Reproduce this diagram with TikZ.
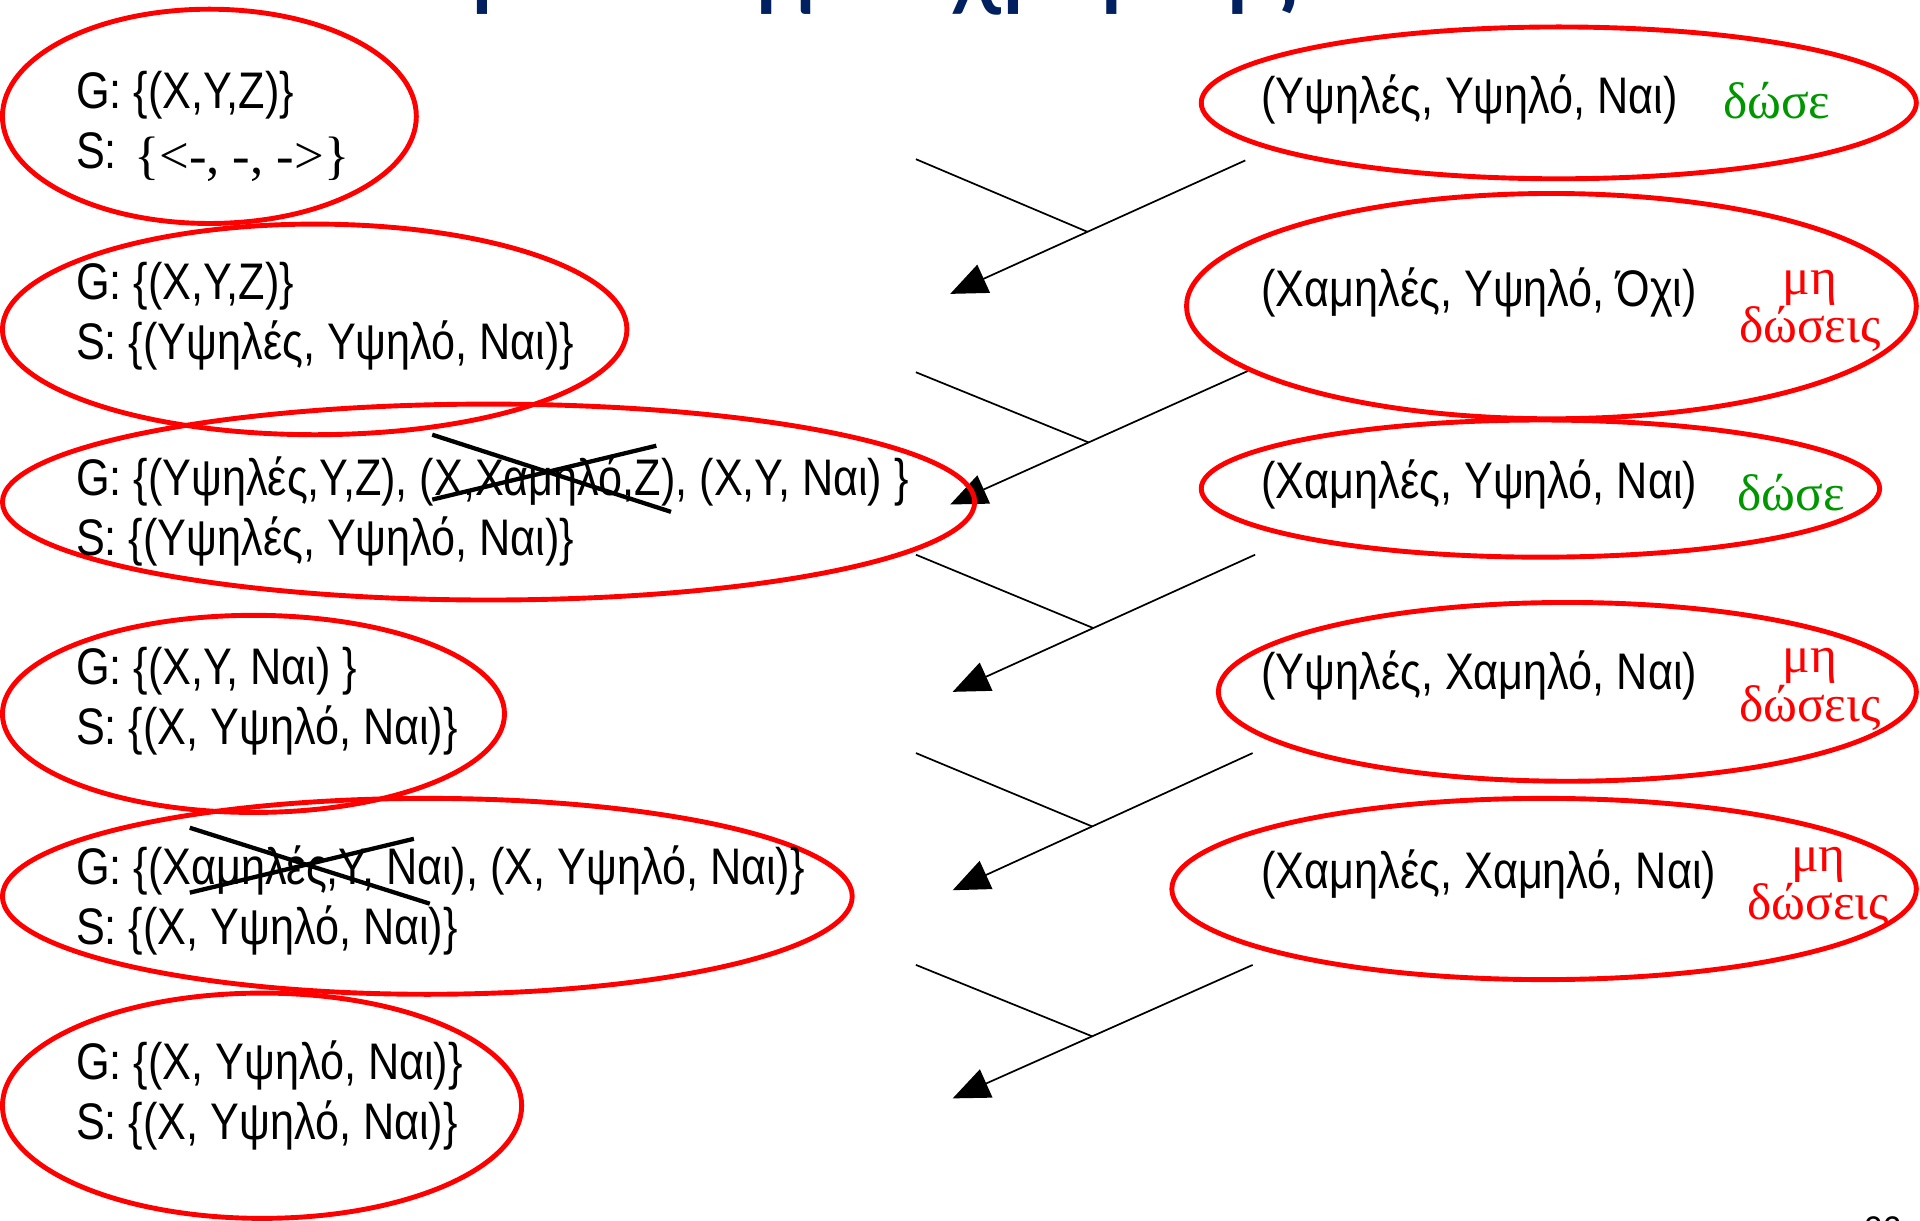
\documentclass[tikz,border=0pt]{standalone}
\usepackage{fontspec}
\setmainfont{Liberation Serif}
\newfontfamily\gsfont[FakeStretch=0.84]{Liberation Sans}
\newfontfamily\headfont{Carlito}
\usetikzlibrary{shapes.geometric, arrows.meta, calc}
\definecolor{headblue}{RGB}{0,32,96}
\definecolor{givegreen}{RGB}{0,150,0}

\begin{document}
\begin{tikzpicture}[
    x=1pt, y=-1pt,
    ring/.style={draw=red, line width=4pt, ellipse, inner sep=0pt},
    hyp/.style={font=\fontsize{42}{49}\gsfont, align=left, anchor=west, inner sep=0pt},
    sample/.style={font=\fontsize{42}{49}\gsfont, anchor=west, inner sep=0pt},
    verdict/.style={font=\fontsize{42}{34}\selectfont, align=center, inner sep=0pt},
    step_line/.style={line width=1.4pt},
    step_arrow/.style={line width=1.4pt, -{Triangle[length=30pt, width=25pt]}},
    strike/.style={line width=3.5pt}
]

    \useasboundingbox (0,0) rectangle (1568,997);

    % Title and page number, cut by the page edge
    \node[font=\fontsize{96}{100}\headfont, text=headblue, anchor=base west, inner sep=0pt] (title) at (270,-4) {Παράδειγμα χρήσης CEA};
    \node[font=\fontsize{30}{30}\headfont, anchor=north west, inner sep=0pt] (page_no) at (1522,993) {23};

    % Steps
    \coordinate (s1_in) at (1017,131); \coordinate (s1_out) at (776,240); \coordinate (s1_tail) at (748,130);
    \coordinate (s2_in) at (1019,303); \coordinate (s2_out) at (776,412); \coordinate (s2_tail) at (748,304);
    \coordinate (s3_in) at (1025,453); \coordinate (s3_out) at (778,565); \coordinate (s3_tail) at (748,453);
    \coordinate (s4_in) at (1023,615); \coordinate (s4_out) at (778,727); \coordinate (s4_tail) at (748,615);
    \coordinate (s5_in) at (1023,788); \coordinate (s5_out) at (778,897); \coordinate (s5_tail) at (748,788);

    \draw[step_arrow] (s1_in) -- (s1_out);
    \draw[step_line] (s1_tail) -- ($(s1_in)!0.535!(s1_out)$);
    \draw[step_arrow] (s2_in) -- (s2_out);
    \draw[step_line] (s2_tail) -- ($(s2_in)!0.535!(s2_out)$);
    \draw[step_arrow] (s3_in) -- (s3_out);
    \draw[step_line] (s3_tail) -- ($(s3_in)!0.535!(s3_out)$);
    \draw[step_arrow] (s4_in) -- (s4_out);
    \draw[step_line] (s4_tail) -- ($(s4_in)!0.535!(s4_out)$);
    \draw[step_arrow] (s5_in) -- (s5_out);
    \draw[step_line] (s5_tail) -- ($(s5_in)!0.535!(s5_out)$);

    % Version spaces
    \node[ring, minimum width=338pt, minimum height=175pt] (vs_a) at (171,95) {};
    \node[ring, minimum width=510pt, minimum height=172pt] (vs_b) at (257,269) {};
    \node[ring, minimum width=794pt, minimum height=160pt] (vs_c) at (399,410) {};
    \node[ring, minimum width=410pt, minimum height=161pt] (vs_d) at (207,583) {};
    \node[ring, minimum width=694pt, minimum height=160pt] (vs_e) at (349,732) {};
    \node[ring, minimum width=424pt, minimum height=184pt] (vs_f) at (214,903) {};

    \node[hyp] (vs_a_text) at (62,103) {G: \{(X,Y,Z)\}\\S:\hspace{14pt}\raisebox{-4pt}{\fontsize{43}{49}\rmfamily\{<-, -, ->\}}};
    \node[hyp] (vs_b_text) at (62,258) {G: \{(X,Y,Z)\}\\S: \{(Υψηλές, Υψηλό, Ναι)\}};
    \node[hyp] (vs_c_text) at (62,418) {G: \{(Υψηλές,Y,Z), (X,Χαμηλό,Z), (X,Y, Ναι) \}\\S: \{(Υψηλές, Υψηλό, Ναι)\}};
    \node[hyp] (vs_d_text) at (62,573) {G: \{(X,Y, Ναι) \}\\S: \{(X, Υψηλό, Ναι)\}};
    \node[hyp] (vs_e_text) at (62,735) {G: \{(Χαμηλές,Y, Ναι), (X, Υψηλό, Ναι)\}\\S: \{(X, Υψηλό, Ναι)\}};
    \node[hyp] (vs_f_text) at (62,895) {G: \{(X, Υψηλό, Ναι)\}\\S: \{(X, Υψηλό, Ναι)\}};

    % Removed hypotheses
    \draw[strike] (353,355) -- (548,418);
    \draw[strike] (353,408) -- (536,364);
    \draw[strike] (155,676) -- (351,738);
    \draw[strike] (155,729) -- (338,685);

    % Training examples
    \node[ring, minimum width=584pt, minimum height=124pt] (ex_a) at (1273,84) {};
    \node[ring, minimum width=596pt, minimum height=184pt] (ex_b) at (1267,250) {};
    \node[ring, minimum width=554pt, minimum height=112pt] (ex_c) at (1258,399) {};
    \node[ring, minimum width=570pt, minimum height=146pt] (ex_d) at (1280,565) {};
    \node[ring, minimum width=608pt, minimum height=148pt] (ex_e) at (1261,726) {};

    \node[sample] (ex_a_text) at (1030,81) {(Υψηλές, Υψηλό, Ναι)};
    \node[sample] (ex_b_text) at (1030,239) {(Χαμηλές, Υψηλό, Όχι)};
    \node[sample] (ex_c_text) at (1030,396) {(Χαμηλές, Υψηλό, Ναι)};
    \node[sample] (ex_d_text) at (1030,552) {(Υψηλές, Χαμηλό, Ναι)};
    \node[sample] (ex_e_text) at (1030,714) {(Χαμηλές, Χαμηλό, Ναι)};

    \node[verdict, text=givegreen] (ex_a_verdict) at (1451,82) {δώσε};
    \node[verdict, text=red] (ex_b_verdict) at (1478,254) {μη\\δώσεις};
    \node[verdict, text=givegreen] (ex_c_verdict) at (1463,402) {δώσε};
    \node[verdict, text=red] (ex_d_verdict) at (1478,563) {μη\\δώσεις};
    \node[verdict, text=red] (ex_e_verdict) at (1485,725) {μη\\δώσεις};

\end{tikzpicture}
\end{document}
